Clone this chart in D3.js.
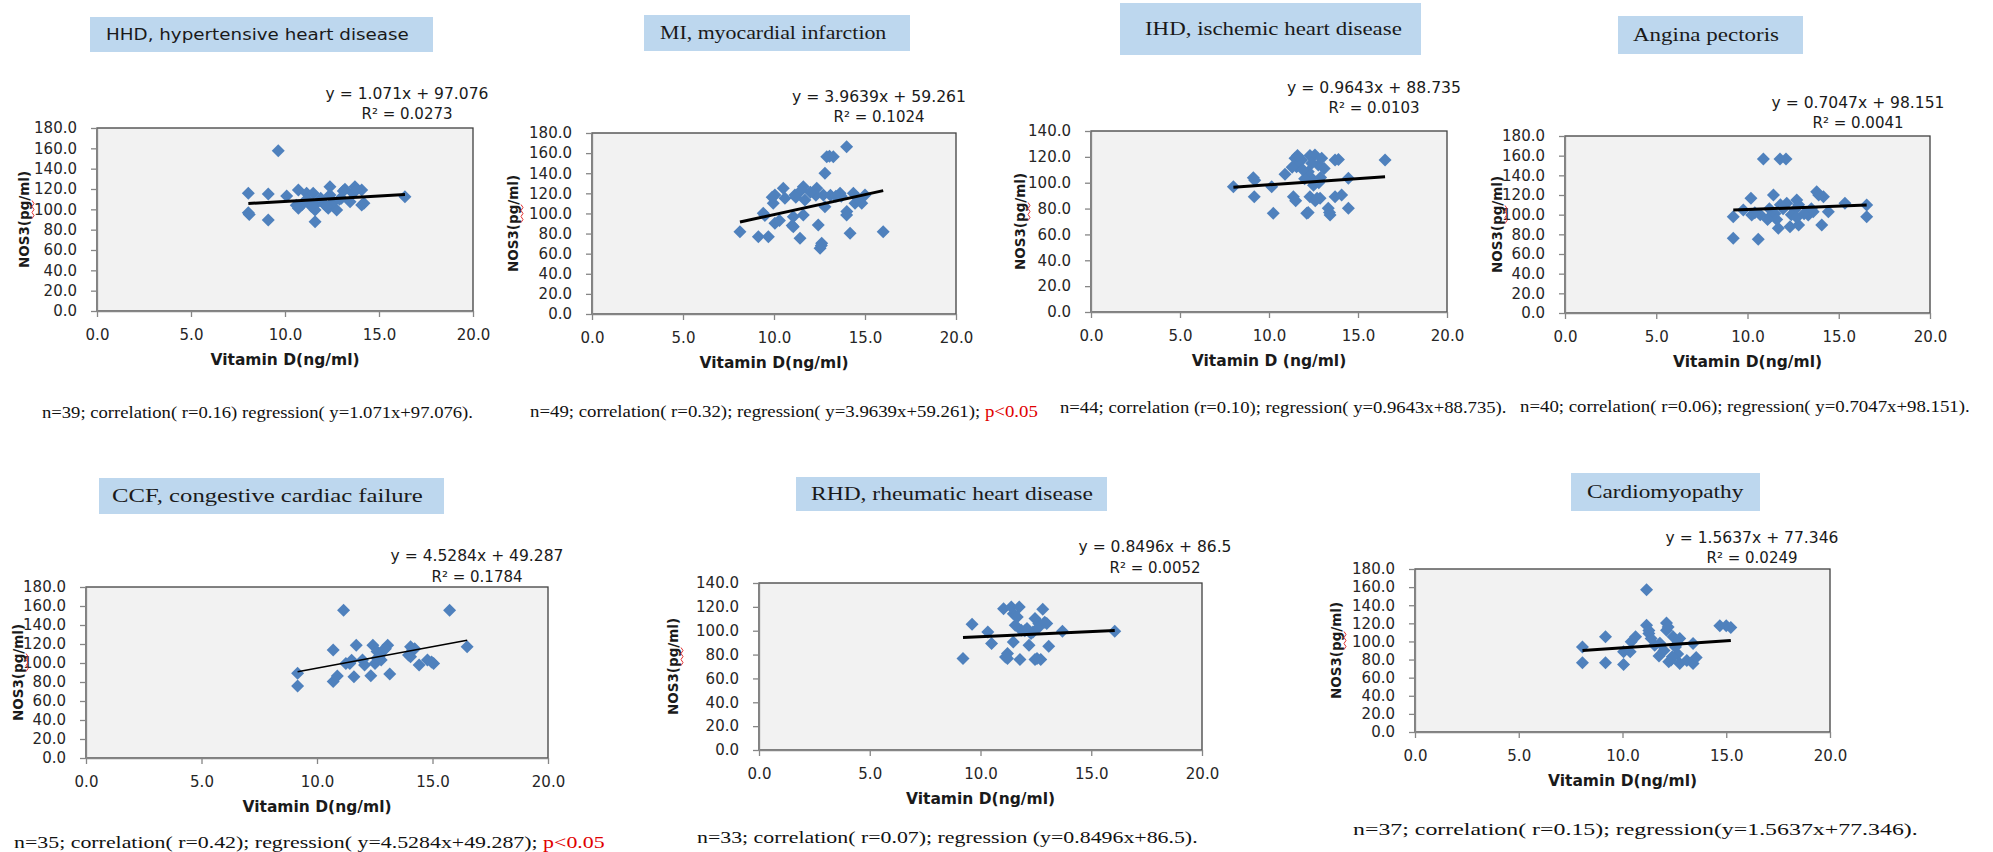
<!DOCTYPE html>
<html><head><meta charset="utf-8">
<script src="https://cdn.jsdelivr.net/npm/d3@7"></script>
<style>body{margin:0;background:#fff}svg{display:block}</style>
</head><body>
<script>
// ---------- DATA ----------
const titles = ["HHD, hypertensive heart disease","MI, myocardial infarction","IHD, ischemic heart disease","Angina pectoris","CCF, congestive cardiac failure","RHD, rheumatic heart disease","Cardiomyopathy"];
const xTitles = ["Vitamin D(ng/ml)","Vitamin D(ng/ml)","Vitamin D (ng/ml)","Vitamin D(ng/ml)","Vitamin D(ng/ml)","Vitamin D(ng/ml)","Vitamin D(ng/ml)"];
const yTitle = "NOS3(pg/ml)";
const slopes = [1.071,3.9639,0.9643,0.7047,4.5284,0.8496,1.5637];
const intercepts = [97.076,59.261,88.735,98.151,49.287,86.5,77.346];
const eqLabels = ["y = 1.071x + 97.076","y = 3.9639x + 59.261","y = 0.9643x + 88.735","y = 0.7047x + 98.151","y = 4.5284x + 49.287","y = 0.8496x + 86.5","y = 1.5637x + 77.346"];
const r2Labels = ["R\u00b2 = 0.0273","R\u00b2 = 0.1024","R\u00b2 = 0.0103","R\u00b2 = 0.0041","R\u00b2 = 0.1784","R\u00b2 = 0.0052","R\u00b2 = 0.0249"];
const footTexts = ["n=39; correlation( r=0.16) regression( y=1.071x+97.076).","n=49; correlation( r=0.32); regression( y=3.9639x+59.261); ","n=44; correlation (r=0.10); regression( y=0.9643x+88.735).","n=40; correlation( r=0.06); regression( y=0.7047x+98.151).","n=35; correlation( r=0.42); regression( y=4.5284x+49.287); ","n=33; correlation( r=0.07); regression (y=0.8496x+86.5).","n=37; correlation( r=0.15); regression(y=1.5637x+77.346)."];
const footRed = ["","p<0.05","","","p<0.05","",""];
const xTicks = [0,5,10,15,20];
const yTicks180 = [0,20,40,60,80,100,120,140,160,180];
const yTicks140 = [0,20,40,60,80,100,120,140];

const hhdVitD = [9.64,8.05,8.05,9.11,9.11,10.09,10.71,10.71,11.15,11.5,11.6,11.6,11.77,12.39,12.39,12.3,12.75,12.57,13.19,13.46,13.72,14.08,14.08,16.38,11.15,12.04,10.9,11.4,13.0,13.6,12.5,11.9,13.1,13.8,12.2,8.1,10.6,12.9,14.2];
const hhdNOS3 = [157.7,115.8,96.7,115.1,89.5,113.1,119,101,115.8,115.8,99.3,87.8,107.5,122.3,114.1,101,99.3,107.5,119.7,107.5,122.3,119,104.3,112.4,110,106,104.5,103,111,116,106,111,118,119,103,95,104,110,106];
const miVitD = [13.99,12.9,13.26,12.8,8.13,9.14,9.69,9.41,9.96,10.05,10.51,10.05,11.06,11.43,11.06,11.61,11.15,11.61,11.7,12.35,12.43,12.62,12.53,12.71,12.8,13.63,13.7,13.99,14.18,14.36,14.45,14.82,15.0,16.0,12.3,13.1,11.2,9.9,14.0,11.5,12.0,14.6,10.6,11.0,13.4,13.05,9.5,10.3,12.6];
const miNOS3 = [166.4,156.4,156.4,139.9,81.8,76.9,76.9,100.1,110.1,118.3,125,90.2,86.8,75.3,96.8,98.5,118.3,126.6,113.4,125,88.5,70.3,65.3,118.3,106.7,120,117,98.5,80.3,120,110.1,110.1,118.3,81.8,118,118,116,116,102,123,121,115,115,88,117,157,98,93,68];
const ihdVitD = [8.0,9.12,9.17,10.24,10.15,10.9,11.37,11.46,11.55,12.12,12.3,12.4,12.58,12.77,12.87,12.96,13.33,13.43,13.71,13.71,14.08,14.46,14.46,16.52,11.84,12.21,12.58,12.0,13.1,11.6,12.5,12.6,12.9,11.3,12.3,9.2,11.5,12.2,12.7,13.4,13.9,12.4,12.8,11.9];
const ihdNOS3 = [96.9,103.9,89.2,76.3,96.9,106.5,89.2,118.9,112.4,76.3,89.2,103.4,121.4,113.7,87.9,118.9,80.2,75,117.6,89.2,90.5,80.2,103.4,117.6,117.6,108.5,99.5,103,111,121,98,86,104,112,121,102,86,77,88,77,118,115,100,110];
const anginaVitD = [10.87,11.78,12.11,9.22,9.22,10.59,10.19,11.42,13.79,14.16,15.34,16.53,16.53,14.07,11.69,12.33,12.8,9.77,10.23,11.23,11.5,12.15,12.7,12.6,13.33,13.6,14.43,11.6,12.4,12.8,10.7,11.2,11.95,13.1,11.1,10.4,12.7,13.5,13.9,11.8];
const anginaNOS3 = [156.6,156.6,156.6,97.9,76,75,116.6,120,123.4,118.3,111.5,109.8,98,89.5,86.1,87.8,89.5,104.7,99.7,97.9,101,111.5,115,105,99.7,103,103,95,100,110,100,106,106,101,95,102,97,106,120,110];
const ccfVitD = [11.15,15.74,9.16,9.16,10.7,10.7,10.88,11.7,11.42,11.6,11.97,12.33,12.42,12.51,12.69,12.87,13.06,13.15,13.96,14.05,14.14,14.42,14.78,15.05,16.5,12.78,12.6,14.05,11.25,12.06,12.96,14.96,11.5,12.6,14.23];
const ccfNOS3 = [155.5,155.5,89.1,75.8,113.6,80.4,86.3,118.8,99.6,85.6,103.1,86.7,118.8,99.6,106.6,113.6,118.8,88.4,108.4,117.1,113.6,97.9,103.1,99.6,117.1,103.1,112,106.6,99.6,97.9,115,101,103,105,115];
const rhdVitD = [9.21,9.62,10.33,10.5,11.04,11.22,11.22,11.48,11.39,11.75,11.57,11.48,11.78,11.84,12.19,12.46,12.37,12.46,12.72,12.81,12.63,12.99,13.08,13.7,16.06,12.0,12.63,12.28,11.66,12.9,12.1,12.55,11.13];
const rhdNOS3 = [76.7,105.4,99,89.2,118.5,80.9,76.7,114.3,119.9,119.9,104.6,90.6,75.9,100.4,87.8,110.2,99,75.9,75.9,118,106,106,87,99.6,99.6,100,103,97.6,111.5,107,101.8,76.7,78];
const cardioVitD = [11.16,8.07,8.07,9.18,9.18,10.05,10.05,10.37,10.42,10.63,11.16,11.27,11.55,11.76,12.12,12.12,12.34,12.44,12.55,12.66,12.76,12.76,13.4,13.4,13.55,14.69,15.0,15.22,11.38,12.2,12.0,12.4,13.1,11.8,11.27,12.23,12.66];
const cardioNOS3 = [157.2,94,76.4,105.1,76.4,74.6,88.5,88.5,99.6,105.1,117.9,108.7,95.9,83.8,120.5,112.4,79.4,105.1,94,86,75.7,103.2,97.7,75.7,82.3,117.2,117.2,115.4,103.2,116,90,83,79,98,112,77.5,98];

const xsAll = [hhdVitD,miVitD,ihdVitD,anginaVitD,ccfVitD,rhdVitD,cardioVitD];
const ysAll = [hhdNOS3,miNOS3,ihdNOS3,anginaNOS3,ccfNOS3,rhdNOS3,cardioNOS3];
const yTickSets = [yTicks180,yTicks180,yTicks140,yTicks180,yTicks180,yTicks140,yTicks180];

// ---------- LAYOUT ----------
const L = [
 {p:[97,128,376,183], box:[90,17,343,35], tt:[106,303], sans:true, eq:[407,94,114,163], yl:24, foot:[42,412,431], lw:3},
 {p:[592,133,364,181], box:[644,15,266,36], tt:[660,227], eq:[879,97,117,174], yl:513, foot:[530,412,508], lw:3},
 {p:[1091,131,356,181], box:[1120,3,301,52], tt:[1145,257], eq:[1374,88,108,174], yl:1020, foot:[1060,407,447], lw:3},
 {p:[1565,136,365,177], box:[1618,16,185,38], tt:[1633,146], eq:[1858,103,123,173], yl:1497, foot:[1520,407,450], lw:3},
 {p:[86,587,462,171], box:[99,478,345,36], tt:[112,311], eq:[477,556,577,173], yl:18, foot:[14,842,591], lw:1.4},
 {p:[759,583,443,167], box:[796,477,311,34], tt:[811,282], eq:[1155,547,568,153], yl:673, foot:[697,837,501], lw:3},
 {p:[1415,569,415,163], box:[1571,473,189,38], tt:[1587,157], eq:[1752,538,558,173], yl:1336, foot:[1353,829,565], lw:3}
];

const svg = d3.select("body").append("svg").attr("width",1993).attr("height",852);
svg.append("rect").attr("width",1993).attr("height",852).attr("fill","#fff");

function fit(t, x, y, w){
  const bw = t.node().getBBox().width;
  t.attr("transform", `translate(${x},${y}) scale(${w/bw},1)`);
}

const SANS = "'DejaVu Sans', Verdana, sans-serif";
const SERIF = "'Liberation Serif', 'Times New Roman', serif";

L.forEach((c,i) => {
  const [px,py,pw,ph] = c.p;
  const yMax = d3.max(yTickSets[i]);
  const x = d3.scaleLinear().domain([0,20]).range([px,px+pw]);
  const y = d3.scaleLinear().domain([0,yMax]).range([py+ph,py]);
  const g = svg.append("g");

  g.append("rect").attr("x",px).attr("y",py).attr("width",pw).attr("height",ph)
    .attr("fill","#f2f2f2").attr("stroke","#404040").attr("stroke-width",1.3);

  const fmt = d3.format(".1f");
  const ax = g.append("g").attr("transform",`translate(0,${py+ph})`)
    .call(d3.axisBottom(x).tickValues(xTicks).tickFormat(fmt).tickSize(6).tickSizeOuter(0).tickPadding(12));
  const ay = g.append("g").attr("transform",`translate(${px},0)`)
    .call(d3.axisLeft(y).tickValues(yTickSets[i]).tickFormat(fmt).tickSize(6).tickSizeOuter(0).tickPadding(14));
  [ax,ay].forEach(a=>{
    a.select(".domain").attr("stroke","#868686").attr("stroke-width",1.3);
    a.selectAll(".tick line").attr("stroke","#868686").attr("stroke-width",1.3);
    a.selectAll(".tick text").attr("fill","#262626").style("font-family",SANS).style("font-size","15px");
  });

  // points
  const pts = d3.zip(xsAll[i], ysAll[i]);
  g.selectAll("path.pt").data(pts).join("path").attr("class","pt")
    .attr("d","M0,-6.5L6.5,0L0,6.5L-6.5,0Z")
    .attr("transform",d=>`translate(${x(d[0])},${y(d[1])})`)
    .attr("fill","#4F81BD");

  // trendline
  const ext = d3.extent(xsAll[i]);
  const tl = ext.map(v=>[v, slopes[i]*v+intercepts[i]]);
  g.append("path").attr("d", d3.line().x(d=>x(d[0])).y(d=>y(d[1]))(tl))
    .attr("stroke","#000").attr("stroke-width",c.lw).attr("fill","none");

  // equation
  const e1 = g.append("text").attr("text-anchor","middle").attr("dominant-baseline","central")
    .style("font-family",SANS).style("font-size","15px").attr("fill","#1a1a1a").text(eqLabels[i]);
  fit(e1, c.eq[0], c.eq[1], c.eq[3]);
  g.append("text").attr("x",c.eq[0]).attr("y",c.eq[2]).attr("text-anchor","middle").attr("dominant-baseline","central")
    .style("font-family",SANS).style("font-size","15px").attr("fill","#1a1a1a").text(r2Labels[i]);

  // axis titles
  g.append("text").attr("x",px+pw/2).attr("y",py+ph+49).attr("text-anchor","middle").attr("dominant-baseline","central")
    .style("font-family",SANS).style("font-size","15.5px").style("font-weight","bold").attr("fill","#1a1a1a").text(xTitles[i]);
  const yl = g.append("g").attr("transform",`translate(${c.yl},${py+ph/2}) rotate(-90)`);
  yl.append("text").attr("text-anchor","middle").attr("dominant-baseline","central")
    .style("font-family",SANS).style("font-size","13.5px").style("font-weight","bold").attr("fill","#1a1a1a").text(yTitle);
  // spell-check squiggle under "pg"
  const sq = d3.range(0,7).map(k=>[1+k*3, 8 + (k%2?2:0)]);
  yl.append("path").attr("d", d3.line()(sq)).attr("stroke","#e03030").attr("stroke-width",1).attr("fill","none");

  // title box
  g.append("rect").attr("x",c.box[0]).attr("y",c.box[1]).attr("width",c.box[2]).attr("height",c.box[3]).attr("fill","#BDD7EE");
  const tt = g.append("text").attr("dominant-baseline","central")
    .style("font-family", c.sans ? SANS : SERIF).style("font-size", c.sans ? "16px" : "19px").attr("fill","#1a1a1a").text(titles[i]);
  fit(tt, c.tt[0], c.box[1]+c.box[3]/2, c.tt[1]);

  // footnote
  const ft = g.append("text").attr("dominant-baseline","central").style("font-family",SERIF).style("font-size","16px").attr("fill","#111");
  ft.append("tspan").text(footTexts[i]);
  if (footRed[i]) ft.append("tspan").attr("fill","#e00000").text(footRed[i]);
  fit(ft, c.foot[0], c.foot[1], c.foot[2]);
});
</script>
</body></html>
